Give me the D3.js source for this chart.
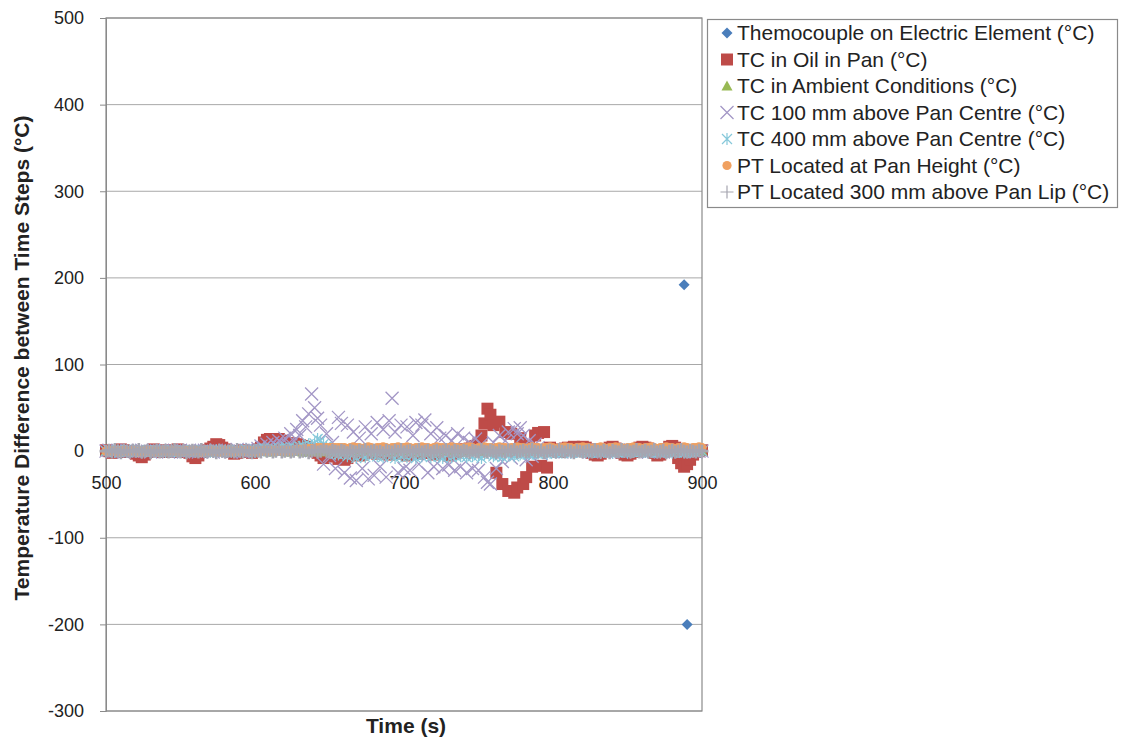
<!DOCTYPE html>
<html><head><meta charset="utf-8">
<script src="https://cdn.jsdelivr.net/npm/d3@7"></script>
<style>body{margin:0;background:#fff;} svg{display:block;font-family:"Liberation Sans",Arial,sans-serif;}</style>
</head><body><svg id="c" width="1123" height="742"></svg>
<script>
// ---- DATA ----
const times = [
500,502,504,506,508,510,512,514,516,518,520,522,524,526,528,530,532,534,536,538,
540,542,544,546,548,550,552,554,556,558,560,562,564,566,568,570,572,574,576,578,
580,582,584,586,588,590,592,594,596,598,600,602,604,606,608,610,612,614,616,618,
620,622,624,626,628,630,632,634,636,638,640,642,644,646,648,650,652,654,656,658,
660,662,664,666,668,670,672,674,676,678,680,682,684,686,688,690,692,694,696,698,
700,702,704,706,708,710,712,714,716,718,720,722,724,726,728,730,732,734,736,738,
740,742,744,746,748,750,752,754,756,758,760,762,764,766,768,770,772,774,776,778,
780,782,784,786,788,790,792,794,796,798,800,802,804,806,808,810,812,814,816,818,
820,822,824,826,828,830,832,834,836,838,840,842,844,846,848,850,852,854,856,858,
860,862,864,866,868,870,872,874,876,878,880,882,884,886,888,890,892,894,896,898,
900];

const seriesNames = [
  "Themocouple on Electric Element (°C)",
  "TC in Oil in Pan (°C)",
  "TC in Ambient Conditions (°C)",
  "TC 100 mm above Pan Centre (°C)",
  "TC 400 mm above Pan Centre (°C)",
  "PT Located at Pan Height (°C)",
  "PT Located 300 mm above Pan Lip (°C)"
];

const elementTC = [
0,1,0,-1,0,1,1,0,-1,0,0,1,0,-1,0,0,1,0,-1,0,
1,0,0,-1,1,0,0,1,-1,0,0,0,1,0,-1,0,1,0,0,-1,
0,1,0,0,-1,0,1,0,0,-1,1,2,1,0,-1,0,1,2,1,0,
1,0,-1,0,2,1,0,-1,1,0,2,1,-1,0,1,0,-1,1,0,0,
-1,0,1,0,-1,1,0,0,1,-1,0,1,0,-1,0,1,0,0,-1,0,
0,1,0,-1,0,0,1,0,-1,1,0,0,-1,0,1,0,0,1,0,-1,
0,1,0,-1,1,0,2,1,0,-1,-2,0,1,0,-1,0,1,0,-1,0,
1,0,0,-1,0,1,0,-1,0,1,0,0,-1,0,1,0,0,-1,0,1,
0,0,1,0,-1,0,1,0,0,-1,0,1,0,-1,0,0,1,0,-1,0,
0,1,0,-1,0,1,0,0,-1,0,1,0,-1,0,192,-200,1,0,-1,0,
0];

const oilTC = [
1,0,-2,-1,0,2,1,-1,0,0,-3,-5,-7,-4,-1,0,2,1,0,-1,
0,1,-1,0,2,1,0,-1,-2,-6,-8,-5,-1,0,1,3,5,8,7,4,
2,0,-1,-3,-2,0,1,0,-1,-2,0,2,4,10,13,14,13,12,14,12,
10,9,8,9,8,7,6,5,3,2,0,-2,-5,-8,-6,-4,-3,-6,-9,-7,
-10,-8,-4,-2,-3,-5,-4,-2,-1,0,-2,-3,-1,0,-2,-4,-3,-1,0,-2,
-3,-5,-2,0,-1,-3,-2,0,1,-2,-4,-3,-1,0,-2,-5,-3,-1,0,2,
1,2,3,5,6,9,18,32,49,42,30,-25,34,-38,22,-46,20,-48,-42,15,
-38,-30,6,-18,18,21,-17,22,-19,4,1,2,-1,0,3,4,2,5,4,3,
5,4,2,-2,-4,-5,-3,0,2,4,5,3,1,-2,-4,-5,-3,-1,2,4,
5,4,3,1,-2,-5,-4,-1,2,5,6,4,-8,-14,-18,-15,-10,-4,-1,0,
1];

const ambientTC = [
0,0,1,0,0,-1,0,0,1,0,0,0,-1,0,0,1,0,0,0,-1,
0,1,0,0,-1,0,0,1,0,0,-1,0,0,0,1,0,0,-1,0,0,
1,0,0,-1,0,0,1,0,0,0,-1,0,1,0,0,-1,0,0,1,0,
0,-1,0,1,0,0,-1,0,0,1,0,0,-1,0,1,0,0,-1,0,0,
1,0,0,-1,0,0,1,0,-1,0,0,1,0,0,-1,0,1,0,0,-1,
0,0,1,0,-1,0,0,1,0,0,-1,0,0,1,0,-1,0,0,1,0,
-1,0,0,1,0,0,-1,0,1,0,0,-1,0,0,1,0,-1,0,0,1,
0,0,-1,0,1,0,0,-1,0,0,1,0,-1,0,0,1,0,0,-1,0,
1,0,0,-1,0,0,1,0,0,-1,0,1,0,0,-1,0,0,1,0,0,
-1,0,1,0,0,-1,0,0,1,0,0,-1,0,1,0,0,-1,0,0,1,
0];

const tc100 = [
0,1,-1,0,1,0,-1,1,0,0,-1,0,1,0,0,-1,1,0,0,1,
0,-1,1,0,0,1,-1,0,1,0,0,-1,0,1,0,0,-1,1,0,0,
1,0,-1,0,2,0,-1,1,0,2,1,3,6,4,8,5,10,7,12,9,
15,8,20,12,25,18,35,28,43,66,50,38,30,-15,20,-5,10,-20,39,32,
-25,30,-31,22,-34,15,-20,28,-32,20,-28,33,-18,25,-30,35,61,22,-25,30,
-20,28,-22,18,33,-15,30,36,-25,20,-18,27,15,-20,18,-16,12,-22,20,-18,
15,-25,10,-20,14,-22,8,-30,-36,-38,10,-20,18,-12,12,22,-8,26,20,27,
18,-10,12,-6,8,4,-3,2,1,0,-1,1,0,-1,1,0,0,1,-1,0,
0,1,0,-1,0,1,0,0,-1,1,0,0,1,-1,0,0,1,0,-1,0,
1,0,-1,0,1,0,0,-1,1,0,0,1,0,-1,0,1,0,0,-1,0,
0];

const tc400 = [
0,1,0,-1,1,0,0,-1,1,0,0,1,-1,0,1,0,-1,0,1,0,
-1,0,1,0,0,-1,1,0,0,1,-1,0,1,0,0,-1,0,1,0,0,
1,0,-1,0,1,0,0,2,1,0,-1,1,2,3,2,1,0,2,3,4,
2,3,1,4,3,5,6,4,8,6,9,14,12,8,5,3,-2,-3,-4,-2,
-3,-6,-3,-4,-8,-2,-5,-7,-3,-2,-4,-6,-3,-7,-4,-2,-5,-8,-3,-6,
-4,-7,-3,-5,-8,-3,-6,-4,-2,-7,-5,-3,-6,-8,-4,-3,-7,-5,-3,-6,
-4,-7,-3,-6,-3,-5,-8,-4,-2,-3,-6,-3,-5,-7,-3,-4,-2,-6,-3,-4,
-3,-2,-4,-3,-2,-3,-2,-1,-3,-2,0,-2,-1,-2,0,-1,-2,0,-1,0,
0,-1,-2,0,-1,0,-2,-1,0,-1,-2,0,-1,0,-1,-2,0,-1,0,-1,
-1,0,-2,-1,0,-1,-2,0,-1,0,-2,-1,0,-1,-2,0,-1,0,-1,0,
0];

const ptPan = [
0,1,0,0,-1,0,1,0,0,1,0,-1,0,0,1,0,0,-1,0,1,
0,0,1,0,-1,0,0,1,0,0,1,0,-1,0,0,1,0,0,-1,0,
1,0,0,-1,0,1,0,0,1,0,0,-1,0,1,0,0,1,0,0,1,
0,1,0,1,1,2,2,3,3,3,3,4,4,4,4,4,4,4,4,4,
4,3,4,5,4,4,3,4,5,4,3,4,4,5,4,3,4,4,5,4,
4,5,4,3,4,4,5,4,4,3,4,5,4,4,3,4,5,4,4,3,
4,4,5,4,3,4,4,5,4,4,3,4,5,4,4,3,4,4,5,4,
4,3,4,5,4,4,3,4,4,5,4,3,4,4,5,4,4,3,4,4,
5,4,4,3,4,4,5,4,3,4,4,5,4,4,3,4,4,5,4,4,
3,4,4,5,4,3,4,4,5,4,4,3,4,4,5,4,3,4,4,5,
4];

const pt300 = [
0,1,-1,2,0,-2,1,0,-1,1,0,2,-1,0,1,-2,0,1,-1,0,
1,-1,0,2,0,-1,1,-2,0,1,0,-1,2,0,-1,1,0,-2,1,0,
-1,0,1,-1,2,0,-1,1,0,-2,1,0,-1,2,0,1,-1,0,2,-1,
0,1,-1,0,2,-1,0,1,-2,0,1,-1,0,2,0,-1,1,0,-1,1,
0,-2,1,0,-1,1,0,2,-1,0,1,-1,0,-2,1,0,-1,1,0,2,
-1,0,1,-1,0,2,-1,0,1,-2,0,1,-1,0,2,0,-1,1,0,-1,
1,0,-2,1,0,-1,2,0,-1,1,0,-2,1,0,-1,1,0,2,-1,0,
1,-1,0,2,0,-1,1,-2,0,1,0,-1,2,0,-1,1,0,-2,1,0,
-1,0,1,-1,2,0,-1,1,0,-2,1,0,-1,2,0,1,-1,0,2,-1,
0,1,-1,0,2,-1,0,1,-2,0,1,-1,0,2,0,-1,1,0,-1,1,
0];

const xTicks = [500, 600, 700, 800, 900];
const yTicks = [-300, -200, -100, 0, 100, 200, 300, 400, 500];
const xTitle = "Time (s)";
const yTitle = "Temperature Difference between Time Steps (°C)";

// ---- CHART ----
const svg = d3.select("#c");
const L = 106, R = 702, T = 18, B = 711;
const x = d3.scaleLinear().domain([500, 900]).range([L, R]);
const y = d3.scaleLinear().domain([-300, 500]).range([B, T]);
const fmt = d => String(d);

// gridlines
svg.append("g").selectAll("line").data(yTicks).join("line")
  .attr("x1", L).attr("x2", R).attr("y1", d => y(d)).attr("y2", d => y(d))
  .attr("stroke", "#a8a8a8").attr("stroke-width", 1);

// plot border
svg.append("rect").attr("x", L).attr("y", T).attr("width", R - L).attr("height", B - T)
  .attr("fill", "none").attr("stroke", "#8a8a8a").attr("stroke-width", 1.2);

// y axis
const yAxis = d3.axisLeft(y).tickValues(yTicks).tickSize(6).tickPadding(16).tickFormat(fmt);
const gy = svg.append("g").attr("transform", `translate(${L},0)`).call(yAxis);
gy.select(".domain").attr("stroke", "#8a8a8a");
gy.selectAll(".tick line").attr("stroke", "#8a8a8a");
gy.selectAll(".tick text").attr("font-size", 18).attr("fill", "#222")
  .attr("font-family", "Liberation Sans, Arial, sans-serif");

// x axis at y=0
const xAxis = d3.axisBottom(x).tickValues(xTicks).tickSize(0).tickPadding(25).tickFormat(fmt);
const gx = svg.append("g").attr("transform", `translate(0,${y(0)})`).call(xAxis);
gx.select(".domain").attr("stroke", "#8a8a8a");
gx.selectAll(".tick text").attr("font-size", 18).attr("fill", "#222")
  .attr("font-family", "Liberation Sans, Arial, sans-serif");

// marker shapes
function markerPath(kind) {
  switch (kind) {
    case "diamond": { const r = 5.5; return `M0,${-r}L${r},0L0,${r}L${-r},0Z`; }
    case "square": { const r = 6; return `M${-r},${-r}H${r}V${r}H${-r}Z`; }
    case "triangle": { const r = 5.5; return `M0,${-r}L${r},${r*0.8}L${-r},${r*0.8}Z`; }
    case "x": { const r = 6.5; return `M${-r},${-r}L${r},${r}M${-r},${r}L${r},${-r}`; }
    case "star": { const r = 5; return `M${-r},${-r}L${r},${r}M${-r},${r}L${r},${-r}M0,${-r-1}L0,${r+1}`; }
    case "circle": { const r = 4.6; return `M${r},0A${r},${r} 0 1,1 ${-r},0A${r},${r} 0 1,1 ${r},0Z`; }
    case "plus": { const r = 6.5; return `M${-r},0H${r}M0,${-r}V${r}`; }
  }
}

const series = [
  { name: seriesNames[0], values: elementTC, kind: "diamond", fill: "#4a7ebb", stroke: "none", sw: 0 },
  { name: seriesNames[1], values: oilTC, kind: "square", fill: "#be4b48", stroke: "none", sw: 0 },
  { name: seriesNames[2], values: ambientTC, kind: "triangle", fill: "#98b954", stroke: "none", sw: 0 },
  { name: seriesNames[3], values: tc100, kind: "x", fill: "none", stroke: "#a397c6", sw: 1.3 },
  { name: seriesNames[4], values: tc400, kind: "star", fill: "none", stroke: "#86c8da", sw: 1.2 },
  { name: seriesNames[5], values: ptPan, kind: "circle", fill: "#f0a060", stroke: "none", sw: 0 },
  { name: seriesNames[6], values: pt300, kind: "plus", fill: "none", stroke: "#a6a5b0", sw: 2.6 }
];

series.forEach(s => {
  svg.append("g").selectAll("path").data(s.values).join("path")
    .attr("d", markerPath(s.kind))
    .attr("transform", (d, i) => `translate(${x(times[i])},${y(d)})`)
    .attr("fill", s.fill).attr("stroke", s.stroke).attr("stroke-width", s.sw);
});

// axis titles
svg.append("text").attr("x", (L + R) / 2 + 2).attr("y", 733).attr("text-anchor", "middle")
  .attr("font-size", 21).attr("font-weight", "bold").attr("fill", "#222").text(xTitle);
svg.append("text").attr("transform", `translate(29,358) rotate(-90)`).attr("text-anchor", "middle")
  .attr("font-size", 21).attr("font-weight", "bold").attr("fill", "#222").text(yTitle);

// legend
const lg = svg.append("g");
lg.append("rect").attr("x", 707.5).attr("y", 19.5).attr("width", 410).attr("height", 188)
  .attr("fill", "#fff").attr("stroke", "#8a8a8a").attr("stroke-width", 1.2);
const items = lg.selectAll("g.item").data(series).join("g").attr("class", "item")
  .attr("transform", (d, i) => `translate(0,${33 + i * 26.5})`);
items.append("path").attr("d", d => markerPath(d.kind))
  .attr("transform", "translate(727,0)")
  .attr("fill", d => d.fill).attr("stroke", d => d.stroke)
  .attr("stroke-width", d => d.kind === "plus" ? 1.2 : d.sw);
items.append("text").attr("x", 737).attr("y", 7).attr("font-size", 21).attr("fill", "#222")
  .text(d => d.name);
</script>
</body></html>
